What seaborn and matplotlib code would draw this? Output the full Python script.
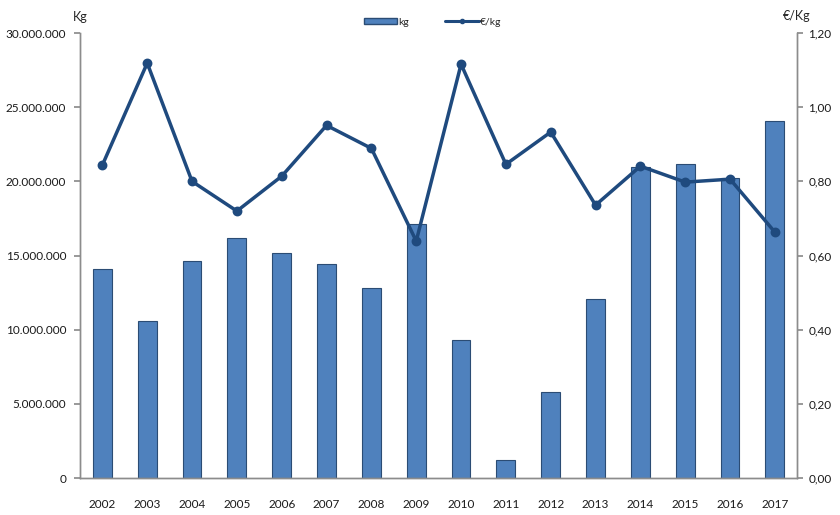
import matplotlib
matplotlib.use("Agg")
import matplotlib.pyplot as plt
import seaborn as sns
import pandas as pd
from matplotlib.patches import Patch
from matplotlib.lines import Line2D
from matplotlib.ticker import FuncFormatter, MultipleLocator

# dati
anni = ['2002', '2003', '2004', '2005', '2006', '2007', '2008', '2009',
        '2010', '2011', '2012', '2013', '2014', '2015', '2016', '2017']
kg = [14.1e6, 10.6e6, 14.6e6, 16.2e6, 15.2e6, 14.4e6, 12.8e6, 17.1e6,
      9.3e6, 1.2e6, 5.8e6, 12.1e6, 21.0e6, 21.2e6, 20.2e6, 24.1e6]
euro_kg = [0.844, 1.119, 0.800, 0.720, 0.814, 0.951, 0.889, 0.639,
           1.116, 0.846, 0.933, 0.736, 0.841, 0.798, 0.806, 0.663]

df = pd.DataFrame({'anno': anni, 'kg': kg, 'euro_kg': euro_kg})

col_barra = '#4f81bd'
col_linea = '#1f4a7e'
col_asse = '#8c8c8c'

sns.set_theme(style="white")
plt.rcParams['font.family'] = ['Lato', 'DejaVu Sans']

fig = plt.figure(figsize=(8.4, 5.15), dpi=100)
ax = fig.add_axes([0.0952, 0.0718, 0.854, 0.864])

sns.barplot(data=df, x='anno', y='kg', color=col_barra, width=0.42,
            saturation=1, edgecolor='#2b4c74', linewidth=0.8, ax=ax)
ax.set_ylim(0, 30e6)
ax.set_xlim(-0.5, len(anni) - 0.5)
ax.yaxis.set_major_locator(MultipleLocator(5e6))
ax.yaxis.set_major_formatter(FuncFormatter(lambda v, p: f"{int(v):,}".replace(',', '.')))
ax.set_xlabel('')
ax.set_ylabel('')

ax2 = ax.twinx()
sns.pointplot(data=df, x='anno', y='euro_kg', color=col_linea, markers='o',
              markersize=5.2, linewidth=2.5, ax=ax2)
ax2.set_ylim(0, 1.2)
ax2.set_xlim(-0.5, len(anni) - 0.5)
ax2.yaxis.set_major_locator(MultipleLocator(0.2))
ax2.yaxis.set_major_formatter(FuncFormatter(lambda v, p: f"{v:.2f}".replace('.', ',')))
ax2.set_ylabel('')
ax2.set_xlabel('')

for a in (ax, ax2):
    a.spines['top'].set_visible(False)
    for s in ('left', 'right', 'bottom'):
        a.spines[s].set_color(col_asse)
        a.spines[s].set_linewidth(1)
    a.grid(False)

ax.tick_params(axis='y', which='major', left=True, length=4, color=col_asse,
               labelsize=8.5, pad=6, labelcolor='#1a1a1a')
ax.tick_params(axis='x', bottom=False, labelsize=8.5, pad=9, labelcolor='#1a1a1a')
ax2.tick_params(axis='y', right=True, length=4, color=col_asse,
                labelsize=8.5, pad=4, labelcolor='#1a1a1a')

# titoli degli assi
fig.text(0.0952, 0.955, 'Kg', ha='center', va='bottom', fontsize=9)
fig.text(0.949, 0.958, '€/Kg', ha='center', va='bottom', fontsize=9)

# legenda
handles = [Patch(facecolor=col_barra, edgecolor='#2b4c74', label='kg'),
           Line2D([0], [0], color=col_linea, lw=2.2, marker='o', markersize=3, label='€/kg')]
fig.legend(handles=handles, loc='center', bbox_to_anchor=(0.515, 0.957), ncol=2,
           frameon=False, fontsize=7.5, handlelength=3.2, handleheight=0.5,
           columnspacing=3.5, handletextpad=0.1)

plt.savefig('out.png', dpi=100)
